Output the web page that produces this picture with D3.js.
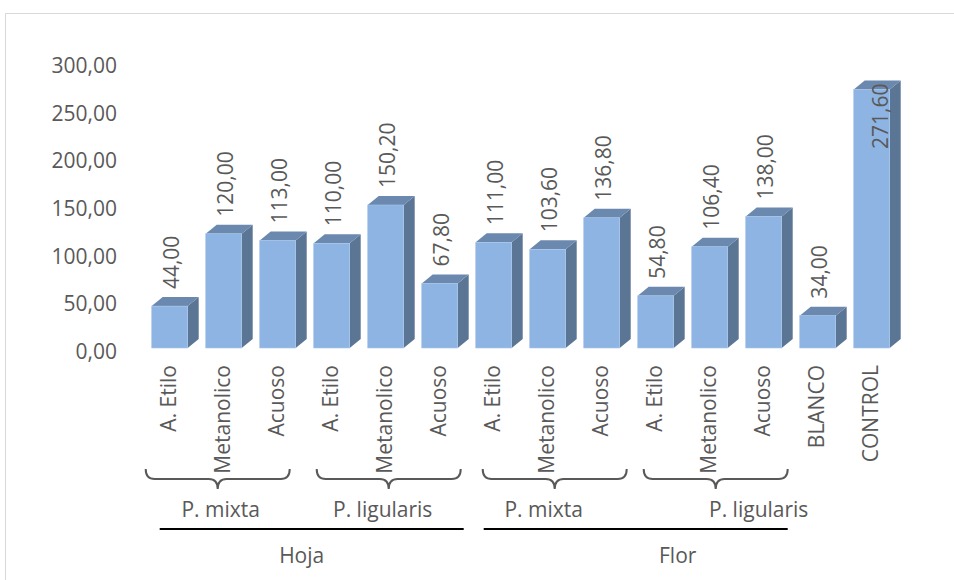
<!DOCTYPE html>
<html>
<head>
<meta charset="utf-8">
<script src="https://cdn.jsdelivr.net/npm/d3@7"></script>
<style>
  html, body { margin: 0; padding: 0; background: #fff; }
  svg { display: block; }
  text { font-family: "Open Sans", "Noto Sans", sans-serif; fill: #595959; }
</style>
</head>
<body>
<svg id="chart" width="954" height="580"></svg>
<script>
// Extract activity per sample (values shown on the bars)
const categories = ["A. Etilo", "Metanolico", "Acuoso", "A. Etilo", "Metanolico", "Acuoso",
                    "A. Etilo", "Metanolico", "Acuoso", "A. Etilo", "Metanolico", "Acuoso",
                    "BLANCO", "CONTROL"];
const values = [44.00, 120.00, 113.00, 110.00, 150.20, 67.80,
                111.00, 103.60, 136.80, 54.80, 106.40, 138.00,
                34.00, 271.60];
const yTicks = [0, 50, 100, 150, 200, 250, 300];

// Bracketed groupings below the axis
const speciesLabels = ["P. mixta", "P. ligularis", "P. mixta", "P. ligularis"];
const speciesFirstBar = [0, 3, 6, 9];
const organLabels = ["Hoja", "Flor"];
const organFirstBar = [0, 6];

// Layout tweaks for the hand-placed annotations
const braceShift = [-6, 3, 7, 6];
const speciesTextShift = [-3, -3, -4, 49];
const organTextShift = [-10, 42];

const fmt = v => d3.format(".2f")(v).replace(".", ",");

const svg = d3.select("#chart");
const baseY = 348;
const depthX = 11, depthY = 9;

// Outer chart frame
svg.append("rect")
  .attr("x", 5.5).attr("y", 13.5)
  .attr("width", 1000).attr("height", 700)
  .attr("fill", "none").attr("stroke", "#D9D9D9").attr("stroke-width", 1);

const x = d3.scaleBand()
  .domain(d3.range(categories.length))
  .range([142.7, 898.7])
  .paddingInner(1 / 3)
  .paddingOuter(1 / 6);
const bw = x.bandwidth();

const y = d3.scaleLinear().domain([0, 300]).range([baseY, 62.4]);

// Value axis labels
const yAxis = d3.axisLeft(y).tickValues(yTicks).tickFormat(fmt).tickSize(0).tickPadding(0);
const yg = svg.append("g").attr("transform", "translate(117,3.5)").call(yAxis);
yg.select(".domain").remove();
yg.selectAll("text")
  .attr("font-family", "Open Sans, Noto Sans, sans-serif")
  .attr("font-size", 21)
  .attr("fill", "#595959");

// 3D columns
const bars = svg.append("g").selectAll("g").data(values).join("g");

bars.append("polygon") // side
  .attr("points", (d, i) => {
    const x0 = x(i) + bw, yt = y(d);
    return [[x0, yt], [x0 + depthX, yt - depthY], [x0 + depthX, baseY - depthY], [x0, baseY]].join(" ");
  })
  .attr("fill", "#5B7594");

bars.append("polygon") // top
  .attr("points", (d, i) => {
    const x0 = x(i), yt = y(d);
    return [[x0, yt], [x0 + depthX, yt - depthY], [x0 + bw + depthX, yt - depthY], [x0 + bw, yt]].join(" ");
  })
  .attr("fill", "#6B88AE");

bars.append("rect") // front
  .attr("x", (d, i) => x(i))
  .attr("y", d => y(d))
  .attr("width", bw)
  .attr("height", d => baseY - y(d))
  .attr("fill", "#8DB4E2")
  .attr("stroke", "#A9C6EA")
  .attr("stroke-width", 0.6);

// Value labels (rotated); the tallest one sits inside its column
bars.append("text")
  .attr("font-size", 21)
  .attr("transform", (d, i) => {
    const inside = y(d) - 17 - 70 < 20;
    const cx = x(i) + bw / 2 + (inside ? 9 : 2);
    const cy = inside ? y(d) - 6 : y(d) - 17;
    return `translate(${cx},${cy}) rotate(-90)`;
  })
  .attr("text-anchor", d => (y(d) - 17 - 70 < 20 ? "end" : "start"))
  .attr("dy", "0.35em")
  .text(d => fmt(d));

// Category labels (rotated)
svg.append("g").selectAll("text").data(categories).join("text")
  .attr("font-size", 21)
  .attr("transform", (d, i) => `translate(${x(i) + bw / 2 - 1.5},365) rotate(-90)`)
  .attr("text-anchor", "end")
  .attr("dy", "0.35em")
  .text(d => d);

// Curly braces and species labels
const braceW = 144;
const yTop = 469, yMid = 479, yTip = 489, r = 9;
speciesLabels.forEach((lab, k) => {
  const first = speciesFirstBar[k];
  const gc = x(first + 1) + bw / 2;
  const xc = gc + braceShift[k];
  const x0 = xc - braceW / 2, x1 = xc + braceW / 2;
  const p = d3.path();
  p.moveTo(x0, yTop);
  p.quadraticCurveTo(x0, yMid, x0 + r, yMid);
  p.lineTo(xc - r, yMid);
  p.quadraticCurveTo(xc, yMid, xc, yTip);
  p.quadraticCurveTo(xc, yMid, xc + r, yMid);
  p.lineTo(x1 - r, yMid);
  p.quadraticCurveTo(x1, yMid, x1, yTop);
  svg.append("path").attr("d", p.toString())
    .attr("fill", "none").attr("stroke", "#595959").attr("stroke-width", 2);
  svg.append("text")
    .attr("x", gc + speciesTextShift[k]).attr("y", 510)
    .attr("dy", "0.35em").attr("text-anchor", "middle")
    .attr("font-size", 21)
    .text(lab);
});

// Organ underlines and labels
organLabels.forEach((lab, k) => {
  const first = organFirstBar[k];
  const xa = x(first) + 8, xb = x(first + 5) + bw + 6;
  svg.append("line")
    .attr("x1", xa).attr("x2", xb).attr("y1", 529).attr("y2", 529)
    .attr("stroke", "#000").attr("stroke-width", 2);
  svg.append("text")
    .attr("x", (xa + xb) / 2 + organTextShift[k]).attr("y", 556)
    .attr("dy", "0.35em").attr("text-anchor", "middle")
    .attr("font-size", 21)
    .text(lab);
});
</script>
</body>
</html>
